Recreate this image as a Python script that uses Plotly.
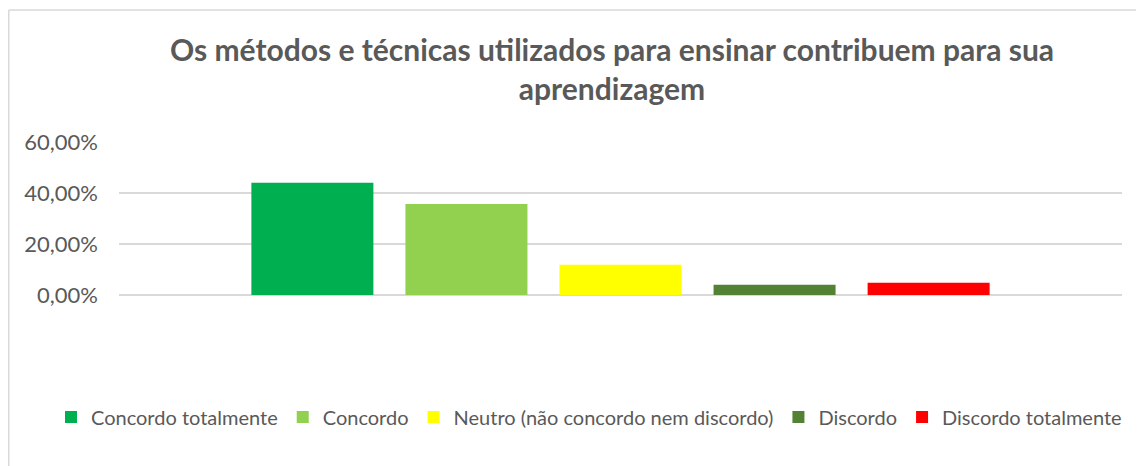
import plotly.graph_objects as go

# data
category = [""]
series_names = [
    "Concordo totalmente",
    "Concordo",
    "Neutro (não concordo nem discordo)",
    "Discordo",
    "Discordo totalmente",
]
series_values = [0.440, 0.357, 0.119, 0.040, 0.048]
series_colors = ["#00B050", "#92D050", "#FFFF00", "#548235", "#FF0000"]

title_text = "Os métodos e técnicas utilizados para ensinar contribuem para sua<br>aprendizagem"
y_ticks = [0, 0.2, 0.4, 0.6]

FONT = "Lato, 'Open Sans', sans-serif"
GREY = "#595959"
GRID = "#D9D9D9"

fig = go.Figure()

for name, value, color in zip(series_names, series_values, series_colors):
    fig.add_trace(go.Bar(
        x=category,
        y=[value],
        name=name,
        marker=dict(color=color, line=dict(width=0)),
    ))

# the page body adds an 8px offset, so the figure is 8px smaller than the window
fig.update_layout(
    width=1136,
    height=458,
    margin=dict(l=111, r=22, t=134, b=171),
    paper_bgcolor="white",
    plot_bgcolor="white",
    separators=",.",
    barmode="group",
    bargap=0.232,
    bargroupgap=0.208,
    font=dict(family=FONT, color=GREY),
    title=dict(
        text=title_text,
        x=0.5317,
        xanchor="center",
        xref="container",
        y=0.884,
        yanchor="top",
        yref="container",
        font=dict(family=FONT, size=30, color=GREY, weight="bold"),
    ),
    # anchored left of the plot area so the single row may use the left margin too
    legend=dict(
        orientation="h",
        x=-0.0678,
        xanchor="left",
        y=-0.797,
        yanchor="middle",
        font=dict(family=FONT, size=20, color=GREY),
        traceorder="normal",
        itemwidth=30,
        tracegroupgap=0,
    ),
    xaxis=dict(
        showticklabels=False,
        showgrid=False,
        showline=False,
        ticks="",
    ),
    yaxis=dict(
        range=[0, 0.6],
        tickvals=y_ticks,
        tickformat=".2%",
        showgrid=True,
        gridcolor=GRID,
        gridwidth=1.5,
        zeroline=True,
        zerolinecolor=GRID,
        zerolinewidth=1.5,
        showline=False,
        ticklabelstandoff=20,
        tickfont=dict(family=FONT, size=22, color=GREY),
    ),
    shapes=[
        # chart area border (left and top edges visible in the crop)
        dict(type="line", xref="paper", yref="paper",
             x0=-0.1099, x1=-0.1099, y0=1.8627, y1=-1.2,
             line=dict(color=GRID, width=1.5)),
        dict(type="line", xref="paper", yref="paper",
             x0=-0.1099, x1=1.05, y0=1.8627, y1=1.8627,
             line=dict(color=GRID, width=1.5)),
    ],
)

fig.write_html("out.html")
